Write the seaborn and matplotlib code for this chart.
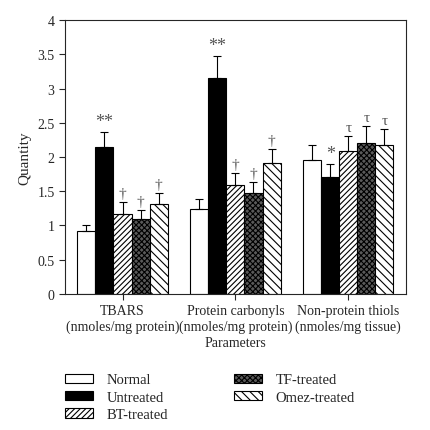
import pandas as pd
import seaborn as sns
import matplotlib.pyplot as plt

params = ["TBARS\n(nmoles/mg protein)", "Protein carbonyls\n(nmoles/mg protein)", "Non-protein thiols\n(nmoles/mg tissue)"]
groups = ["Normal", "Untreated", "BT-treated", "TF-treated", "Omez-treated"]

normal = [0.92, 1.24, 1.96]
untreated = [2.14, 3.15, 1.71]
bt_treated = [1.16, 1.59, 2.09]
tf_treated = [1.09, 1.48, 2.21]
omez_treated = [1.31, 1.91, 2.17]

normal_err = [0.09, 0.14, 0.21]
untreated_err = [0.23, 0.33, 0.19]
bt_err = [0.18, 0.17, 0.22]
tf_err = [0.13, 0.16, 0.24]
omez_err = [0.16, 0.21, 0.24]

normal_sig = ["", "", ""]
untreated_sig = ["**", "**", "*"]
bt_sig = ["†", "†", "τ"]
tf_sig = ["†", "†", "τ"]
omez_sig = ["†", "†", "τ"]

sns.set_style("ticks")
plt.rcParams['font.family'] = ['Liberation Serif', 'DejaVu Serif']
plt.rcParams['font.size'] = 10
plt.rcParams['hatch.linewidth'] = 0.8

vals = [normal, untreated, bt_treated, tf_treated, omez_treated]
errs = [normal_err, untreated_err, bt_err, tf_err, omez_err]
sigs = [normal_sig, untreated_sig, bt_sig, tf_sig, omez_sig]

df = pd.DataFrame({
    "param": params * len(groups),
    "group": [g for g in groups for _ in params],
    "value": [v for vs in vals for v in vs],
})

fig = plt.figure(figsize=(4.3, 4.31), dpi=100)
ax = fig.add_axes([0.151, 0.316, 0.793, 0.635])

colors = {"Normal": "white", "Untreated": "black", "BT-treated": "white",
          "TF-treated": "#5a5a5a", "Omez-treated": "white"}
hatches = ["", "", "//////", "xxxxxx", "\\\\\\\\"]

sns.barplot(data=df, x="param", y="value", hue="group", palette=colors,
            edgecolor="black", linewidth=0.8, width=0.8, ax=ax, legend=False)

n = len(params)
for gi, g in enumerate(groups):
    bars = ax.patches[gi * n:(gi + 1) * n]
    for pi, bar in enumerate(bars):
        bar.set_hatch(hatches[gi])
        x = bar.get_x() + bar.get_width() / 2
        top = bar.get_height()
        ax.errorbar(x, top, yerr=[[0], [errs[gi][pi]]], fmt="none",
                    ecolor="black", elinewidth=0.8, capsize=3, capthick=0.8)
        s = sigs[gi][pi]
        if s:
            fs = 13 if "*" in s else 11
            ax.text(x, top + errs[gi][pi] + 0.03, s, ha="center", va="bottom",
                    color="#555555", fontsize=fs)

ax.set_ylim(0, 4)
ax.set_xlim(-0.51, 2.51)
ax.set_yticks([0, 0.5, 1, 1.5, 2, 2.5, 3, 3.5, 4])
ax.set_yticklabels(["0", "0.5", "1", "1.5", "2", "2.5", "3", "3.5", "4"])
ax.set_ylabel("Quantity", fontsize=11)
ax.set_xlabel("Parameters", labelpad=2)
ax.tick_params(direction="out", length=4, width=0.8)
for sp in ax.spines.values():
    sp.set_linewidth(0.8)
    sp.set_visible(True)

handles = []
for gi, g in enumerate(groups):
    handles.append(plt.Rectangle((0, 0), 1, 1, facecolor=colors[g], edgecolor="black",
                                 linewidth=0.8, hatch=hatches[gi], label=g))
fig.legend(handles=handles, loc="upper left", bbox_to_anchor=(0.121, 0.162),
           ncol=2, frameon=False, fontsize=10.5, handlelength=1.9, handleheight=0.6,
           handletextpad=0.95, columnspacing=4.5, labelspacing=0.3,
           bbox_transform=fig.transFigure)

fig.savefig("out.png", dpi=100)
